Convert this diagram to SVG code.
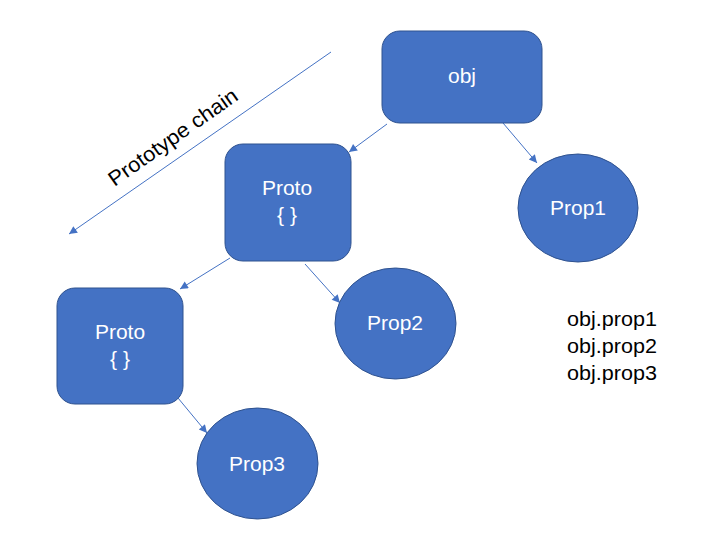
<svg xmlns="http://www.w3.org/2000/svg" width="702" height="535" viewBox="0 0 702 535">
<defs>
<marker id="ah" viewBox="0 0 10 10" refX="10" refY="5" markerWidth="10" markerHeight="8" markerUnits="userSpaceOnUse" orient="auto">
<path d="M0,0 L10,5 L0,10 z" fill="#4472C4"/>
</marker>
<style>
.box{fill:#4472C4;stroke:#2F528F;stroke-width:1}
.lbl{font-family:"Liberation Sans",Arial,sans-serif;font-size:21px;fill:#ffffff;text-anchor:middle}
.txt{font-family:"Liberation Sans",Arial,sans-serif;font-size:21px;fill:#000000}
.con{stroke:#4472C4;stroke-width:1;fill:none;marker-end:url(#ah)}
</style>
</defs>
<rect width="702" height="535" fill="#ffffff"/>
<g id="connectors">
<line class="con" x1="503" y1="123" x2="537" y2="163"/>
<line class="con" x1="387" y1="124" x2="349" y2="152"/>
<line class="con" x1="230" y1="258" x2="180" y2="289"/>
<line class="con" x1="305" y1="264" x2="340" y2="303"/>
<line class="con" x1="178" y1="398" x2="207" y2="433"/>
<line class="con" x1="331" y1="52" x2="69" y2="234"/>
</g>
<g id="chain-label">
<text class="txt" transform="translate(177,143) rotate(-35.1)" text-anchor="middle" textLength="153" lengthAdjust="spacingAndGlyphs">Prototype chain</text>
</g>
<g id="obj">
<rect class="box" x="382" y="31" width="160" height="92" rx="18"/>
<text class="lbl" x="462" y="83">obj</text>
</g>
<g id="proto1">
<rect class="box" x="225" y="144" width="126" height="117" rx="18"/>
<text class="lbl" x="287" y="195">Proto</text>
<text class="lbl" x="287" y="222">{ }</text>
</g>
<g id="proto2">
<rect class="box" x="57" y="288" width="126" height="116" rx="18"/>
<text class="lbl" x="120" y="339">Proto</text>
<text class="lbl" x="120" y="366">{ }</text>
</g>
<g id="prop1">
<ellipse class="box" cx="578" cy="208" rx="60" ry="54"/>
<text class="lbl" x="578" y="215">Prop1</text>
</g>
<g id="prop2">
<ellipse class="box" cx="395.5" cy="323.5" rx="60.5" ry="55.5"/>
<text class="lbl" x="395" y="330">Prop2</text>
</g>
<g id="prop3">
<ellipse class="box" cx="257.5" cy="463.5" rx="60.5" ry="55.5"/>
<text class="lbl" x="257" y="471">Prop3</text>
</g>
<g id="access-list">
<text class="txt" x="567" y="326" textLength="90" lengthAdjust="spacingAndGlyphs">obj.prop1</text>
<text class="txt" x="567" y="353" textLength="90" lengthAdjust="spacingAndGlyphs">obj.prop2</text>
<text class="txt" x="567" y="380" textLength="90" lengthAdjust="spacingAndGlyphs">obj.prop3</text>
</g>
</svg>
